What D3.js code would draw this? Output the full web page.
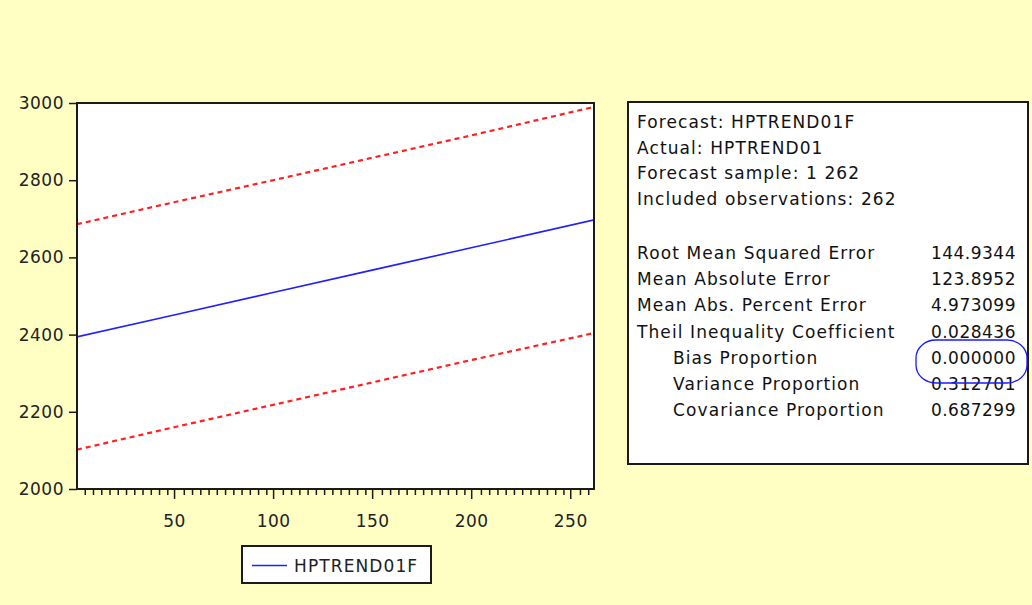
<!DOCTYPE html>
<html><head><meta charset="utf-8">
<script src="https://cdn.jsdelivr.net/npm/d3@7"></script>
<style>
html,body{margin:0;padding:0;background:#ffffc4;}
svg{display:block;}
text{font-family:"DejaVu Sans",sans-serif;letter-spacing:0.5px;}
text.lbl{letter-spacing:1.1px;}
</style></head>
<body>
<script>
// ---- data ----
const obs = [1, 50, 100, 150, 200, 262];
const forecast = [2394, 2451, 2509, 2567, 2625, 2697];
const upperBand = [2686, 2743, 2800, 2858, 2916, 2990];
const lowerBand = [2102, 2160, 2218, 2276, 2334, 2404];
const yTicks = [2000, 2200, 2400, 2600, 2800, 3000];
const xTicks = [50, 100, 150, 200, 250];
const seriesName = "HPTREND01F";
const headerLines = ["Forecast: HPTREND01F", "Actual: HPTREND01", "Forecast sample: 1 262", "Included observations: 262"];
const statLabels = ["Root Mean Squared Error", "Mean Absolute Error", "Mean Abs. Percent Error", "Theil Inequality Coefficient", "Bias Proportion", "Variance Proportion", "Covariance Proportion"];
const statValues = ["144.9344", "123.8952", "4.973099", "0.028436", "0.000000", "0.312701", "0.687299"];
const statIndent = [false, false, false, false, true, true, true];

const W = 1032, H = 605;
const FS = 17;
const svg = d3.select("body").append("svg").attr("width", W).attr("height", H);
svg.append("rect").attr("width", W).attr("height", H).attr("fill", "#ffffc4");

const L = 77, R = 594, T = 103, B = 489;
const x = d3.scaleLinear().domain([1, 262]).range([L, R]);
const y = d3.scaleLinear().domain([2000, 3000]).range([B, T]);

// plot area
svg.append("rect").attr("x", L).attr("y", T).attr("width", R - L).attr("height", B - T)
  .attr("fill", "#fff").attr("stroke", "#1a1a1a").attr("stroke-width", 2);

// y axis
const yAxis = svg.append("g").attr("transform", `translate(${L},0)`)
  .call(d3.axisLeft(y).tickValues(yTicks).tickSize(8).tickPadding(5).tickFormat(d3.format("d")));
yAxis.select(".domain").remove();
yAxis.selectAll("line").attr("stroke", "#1a1a1a").attr("stroke-width", 1.5);
yAxis.selectAll("text").attr("font-size", FS).attr("fill", "#222").attr("font-family", "DejaVu Sans, sans-serif");

// x axis minor ticks
const minor = d3.range(1, 263, 50 / 12).map(v => Math.round(v * 100) / 100)
  .filter(v => xTicks.every(t => Math.abs(t - v) > 1.5) && v > 2);
svg.append("g").selectAll("line").data(minor).join("line")
  .attr("x1", d => x(d)).attr("x2", d => x(d)).attr("y1", B).attr("y2", B + 6)
  .attr("stroke", "#1a1a1a").attr("stroke-width", 1.5);
const xAxis = svg.append("g").attr("transform", `translate(0,${B})`)
  .call(d3.axisBottom(x).tickValues(xTicks).tickSize(10).tickPadding(16).tickFormat(d3.format("d")));
xAxis.select(".domain").remove();
xAxis.selectAll("line").attr("stroke", "#1a1a1a").attr("stroke-width", 1.5);
xAxis.selectAll("text").attr("font-size", FS).attr("fill", "#222").attr("font-family", "DejaVu Sans, sans-serif");

// lines
const data = obs.map((o, i) => ({o, f: forecast[i], u: upperBand[i], l: lowerBand[i]}));
const mk = key => d3.line().x(d => x(d.o)).y(d => y(d[key]));
const clip = svg.append("clipPath").attr("id", "clp").append("rect")
  .attr("x", L + 1).attr("y", T + 1).attr("width", R - L - 2).attr("height", B - T - 2);
const g = svg.append("g").attr("clip-path", "url(#clp)");
g.append("path").datum(data).attr("d", mk("u")).attr("fill", "none")
  .attr("stroke", "#ff2020").attr("stroke-width", 2.2).attr("stroke-dasharray", "5,4");
g.append("path").datum(data).attr("d", mk("l")).attr("fill", "none")
  .attr("stroke", "#ff2020").attr("stroke-width", 2.2).attr("stroke-dasharray", "5,4");
g.append("path").datum(data).attr("d", mk("f")).attr("fill", "none")
  .attr("stroke", "#2020ff").attr("stroke-width", 1.6);

// legend
svg.append("rect").attr("x", 242).attr("y", 546).attr("width", 189).attr("height", 37)
  .attr("fill", "#fff").attr("stroke", "#1a1a1a").attr("stroke-width", 2);
svg.append("line").attr("x1", 252).attr("x2", 287).attr("y1", 565.5).attr("y2", 565.5)
  .attr("stroke", "#2020ff").attr("stroke-width", 1.6);
svg.append("text").attr("class", "lbl").attr("x", 294).attr("y", 572).attr("font-size", FS).attr("fill", "#222").text(seriesName);

// stats box
svg.append("rect").attr("x", 628).attr("y", 102).attr("width", 400).attr("height", 362)
  .attr("fill", "#fff").attr("stroke", "#1a1a1a").attr("stroke-width", 2);
const st = svg.append("g").attr("font-size", FS).attr("fill", "#111");
headerLines.forEach((t, i) => {
  st.append("text").attr("class", "lbl").attr("x", 637).attr("y", 128 + i * 25.5).text(t);
});
statLabels.forEach((t, i) => {
  const yy = 259 + i * 26.2;
  st.append("text").attr("class", "lbl").attr("x", statIndent[i] ? 673 : 637).attr("y", yy).text(t);
  st.append("text").attr("x", 1016).attr("y", yy).attr("text-anchor", "end").text(statValues[i]);
});
// annotation ellipse
svg.append("rect").attr("x", 916).attr("y", 340).attr("width", 111).attr("height", 43)
  .attr("rx", 20).attr("ry", 18).attr("fill", "none").attr("stroke", "#1a1aff").attr("stroke-width", 1.3);
</script>
</body></html>
